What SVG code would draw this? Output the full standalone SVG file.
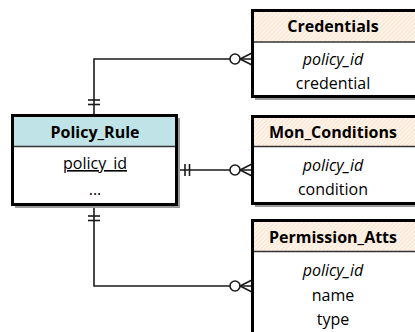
<svg xmlns="http://www.w3.org/2000/svg" width="415" height="332" viewBox="0 0 415 332">
  <style>
    .shadow { fill: #9a9a9a; }
    .box { fill: #ffffff; stroke: #000000; stroke-width: 3; }
    .sep { stroke: #333333; stroke-width: 1.5; }
    .hdr-main { fill: #bfe3e6; }
    .hdr-sub { fill: url(#hatch); }
    .t { font-family: "Open Sans", "Noto Sans", sans-serif; font-size: 16px; fill: #000000; text-anchor: middle; }
    .b { font-weight: bold; }
    .i { font-style: italic; }
    .u { text-decoration: underline; }
    .conn { fill: none; stroke: #1a1a1a; stroke-width: 1.6; }
    .ring { fill: #ffffff; stroke: #1a1a1a; stroke-width: 1.6; }
  </style>
  <defs>
    <pattern id="hatch" patternUnits="userSpaceOnUse" width="3" height="3" patternTransform="rotate(45)">
      <rect width="3" height="3" fill="#fff4ea"/>
      <line x1="0" y1="0" x2="0" y2="3" stroke="#f6d3b4" stroke-width="1"/>
    </pattern>
  </defs>

  <!-- relationship lines -->
  <g id="connectors">
    <!-- Policy_Rule to Credentials -->
    <path class="conn" d="M94,115 V59 H252"/>
    <line class="conn" x1="88" y1="100" x2="100" y2="100"/>
    <line class="conn" x1="88" y1="104.5" x2="100" y2="104.5"/>
    <path class="conn" d="M252,53 L240,59 L252,65"/>
    <circle class="ring" cx="235" cy="59" r="5"/>

    <!-- Policy_Rule to Mon_Conditions -->
    <path class="conn" d="M177,170 H252"/>
    <line class="conn" x1="185" y1="164" x2="185" y2="176"/>
    <line class="conn" x1="189.5" y1="164" x2="189.5" y2="176"/>
    <path class="conn" d="M252,164 L240,170 L252,176"/>
    <circle class="ring" cx="235" cy="170" r="5"/>

    <!-- Policy_Rule to Permission_Atts -->
    <path class="conn" d="M94,205 V286 H252"/>
    <line class="conn" x1="88" y1="216" x2="100" y2="216"/>
    <line class="conn" x1="88" y1="220.5" x2="100" y2="220.5"/>
    <path class="conn" d="M252,280 L240,286 L252,292"/>
    <circle class="ring" cx="235" cy="286" r="5"/>
  </g>

  <g id="policy_rule">
    <rect class="shadow" x="15" y="118" width="165" height="90"/>
    <rect class="box" x="12.5" y="115.5" width="164" height="89"/>
    <rect class="hdr-main" x="14" y="117" width="161" height="29"/>
    <line class="sep" x1="14" y1="146.5" x2="175" y2="146.5"/>
    <text class="t b" x="95" y="138">Policy_Rule</text>
    <text class="t u" x="95" y="169">policy_id</text>
    <text class="t" x="95" y="195">...</text>
  </g>

  <g id="credentials">
    <rect class="shadow" x="255" y="13" width="170" height="87"/>
    <rect class="box" x="252.5" y="10.5" width="170" height="86"/>
    <rect class="hdr-sub" x="254" y="12" width="168" height="30"/>
    <line class="sep" x1="254" y1="42" x2="422" y2="42"/>
    <text class="t b" x="333" y="32">Credentials</text>
    <text class="t i" x="333" y="65">policy_id</text>
    <text class="t" x="333" y="89">credential</text>
  </g>

  <g id="mon_conditions">
    <rect class="shadow" x="255" y="119" width="170" height="88"/>
    <rect class="box" x="252.5" y="116.5" width="170" height="87"/>
    <rect class="hdr-sub" x="254" y="118" width="168" height="28"/>
    <line class="sep" x1="254" y1="146.5" x2="422" y2="146.5"/>
    <text class="t b" x="333" y="138">Mon_Conditions</text>
    <text class="t i" x="333" y="171">policy_id</text>
    <text class="t" x="333" y="195">condition</text>
  </g>

  <g id="permission_atts">
    <rect class="shadow" x="255" y="223" width="170" height="120"/>
    <rect class="box" x="252.5" y="220.5" width="170" height="120"/>
    <rect class="hdr-sub" x="254" y="222" width="168" height="29"/>
    <line class="sep" x1="254" y1="251.5" x2="422" y2="251.5"/>
    <text class="t b" x="333" y="243">Permission_Atts</text>
    <text class="t i" x="333" y="276">policy_id</text>
    <text class="t" x="333" y="301">name</text>
    <text class="t" x="333" y="325">type</text>
  </g>
</svg>
